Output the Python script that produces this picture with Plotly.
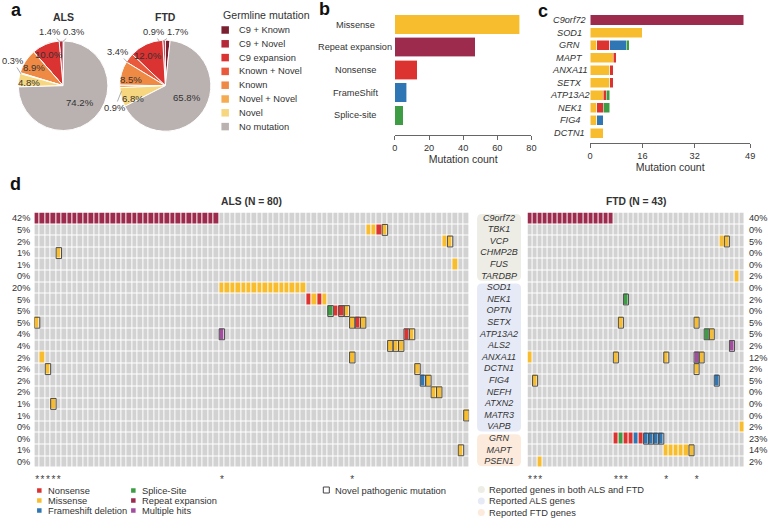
import math
import plotly.graph_objects as go

W, H = 773, 519
FONT = "Liberation Sans, Arial, Helvetica, sans-serif"
TXT = "#333333"

# ---------------- Panel a : germline mutation pies ----------------
germline_labels = ["C9 + Known", "C9 + Novel", "C9 expansion", "Known + Novel",
                   "Known", "Novel + Novel", "Novel", "No mutation"]
germline_colors = ["#7B2030", "#B5283A", "#DB3232", "#E95A3D",
                   "#EF8A45", "#F5AC50", "#F7D680", "#BAB2B0"]
als_germline_pct = [0.3, 1.4, 10.0, 0.0, 8.9, 0.3, 4.8, 74.2]
ftd_germline_pct = [1.7, 0.9, 12.0, 3.4, 8.5, 0.9, 6.8, 65.8]

# ---------------- Panel b : mutation types ----------------
mut_types = ["Missense", "Repeat expansion", "Nonsense", "FrameShift", "Splice-site"]
mut_counts = [73, 47, 13, 7, 5]

COL_MISSENSE = "#F8BD2F"
COL_REPEAT = "#9C2B4E"
COL_NONSENSE = "#DD3330"
COL_FRAMESHIFT = "#2F76B5"
COL_SPLICE = "#3E9D44"
COL_MULTI = "#A24E9F"
COL_NONE = "#D2D2D2"
mut_type_colors = [COL_MISSENSE, COL_REPEAT, COL_NONSENSE, COL_FRAMESHIFT, COL_SPLICE]

# ---------------- Panel c : per-gene counts ----------------
c_genes = ["C9orf72", "SOD1", "GRN", "MAPT", "ANXA11", "SETX", "ATP13A2", "NEK1", "FIG4", "DCTN1"]
c_missense = [0, 16, 2, 7, 6, 6, 4, 2, 2, 4]
c_nonsense = [0, 0, 4, 1, 1, 1, 1, 2, 0, 0]
c_frameshift = [0, 0, 5, 0, 0, 0, 0, 0, 2, 0]
c_splice = [0, 0, 1, 0, 0, 0, 1, 2, 0, 0]
c_repeat = [47, 0, 0, 0, 0, 0, 0, 0, 0, 0]

# ---------------- Panel d : oncoprint ----------------
d_genes = ["C9orf72", "TBK1", "VCP", "CHMP2B", "FUS", "TARDBP", "SOD1", "NEK1", "OPTN",
           "SETX", "ATP13A2", "ALS2", "ANXA11", "DCTN1", "FIG4", "NEFH", "ATXN2", "MATR3",
           "VAPB", "GRN", "MAPT", "PSEN1"]
# gene groups: (name, first row, last row)
gene_groups = [("both", 0, 5), ("als", 6, 18), ("ftd", 19, 21)]
group_colors = {"both": "#EDEDE6", "als": "#E6EAF6", "ftd": "#FCEBDD"}
als_pct_labels = ["42%", "5%", "2%", "1%", "1%", "0%", "20%", "5%", "5%", "5%", "4%", "4%",
                  "2%", "2%", "2%", "2%", "1%", "1%", "0%", "0%", "1%", "0%"]
ftd_pct_labels = ["40%", "0%", "5%", "0%", "0%", "2%", "0%", "2%", "0%", "5%", "5%", "2%",
                  "12%", "2%", "5%", "0%", "0%", "0%", "2%", "23%", "14%", "2%"]
N_ALS, N_FTD = 80, 43
# events: gene -> list of (first patient column, run length, code)
# codes: r repeat, m missense, n nonsense, f frameshift, s splice, h multiple hits
# upper case = novel pathogenic mutation
als_events = {
    "C9orf72": [(0, 34, "r")],
    "TBK1": [(61, 2, "m"), (63, 1, "n"), (64, 1, "M")],
    "VCP": [(75, 1, "m"), (76, 1, "M")],
    "CHMP2B": [(4, 1, "M")],
    "FUS": [(77, 1, "m")],
    "SOD1": [(34, 16, "m")],
    "NEK1": [(50, 1, "n"), (51, 1, "m"), (52, 1, "n"), (53, 1, "m")],
    "OPTN": [(54, 1, "S"), (55, 1, "n"), (56, 1, "N"), (57, 1, "M")],
    "SETX": [(0, 1, "M"), (58, 1, "M"), (59, 1, "N"), (60, 1, "M")],
    "ATP13A2": [(34, 1, "H"), (68, 1, "N"), (69, 1, "M")],
    "ALS2": [(65, 3, "M")],
    "ANXA11": [(1, 1, "m"), (58, 1, "M")],
    "DCTN1": [(2, 1, "M"), (70, 1, "M")],
    "FIG4": [(71, 1, "F"), (72, 1, "M")],
    "NEFH": [(73, 2, "M")],
    "ATXN2": [(3, 1, "M")],
    "MATR3": [(79, 1, "M")],
    "MAPT": [(78, 1, "M")],
}
ftd_events = {
    "C9orf72": [(0, 17, "r")],
    "VCP": [(38, 1, "m"), (39, 1, "M")],
    "TARDBP": [(41, 1, "m")],
    "NEK1": [(19, 1, "S")],
    "SETX": [(18, 1, "M"), (33, 1, "M")],
    "ATP13A2": [(35, 1, "S"), (36, 1, "M")],
    "ALS2": [(40, 1, "H")],
    "ANXA11": [(0, 1, "m"), (17, 1, "M"), (27, 1, "M"), (33, 1, "H"), (34, 1, "M")],
    "DCTN1": [(33, 1, "M")],
    "FIG4": [(1, 1, "M"), (37, 1, "F")],
    "VAPB": [(42, 1, "m")],
    "GRN": [(17, 1, "n"), (18, 1, "s"), (19, 1, "n"), (20, 1, "n"), (21, 1, "f"),
            (22, 1, "n"), (23, 4, "F")],
    "MAPT": [(27, 5, "m"), (32, 1, "M")],
    "PSEN1": [(2, 1, "m")],
}
code_index = {"n": 1, "m": 2, "f": 3, "s": 4, "r": 5, "h": 6}
cell_colors = [COL_NONE, COL_NONSENSE, COL_MISSENSE, COL_FRAMESHIFT, COL_SPLICE, COL_REPEAT, COL_MULTI]

# ---------------- helpers ----------------
def dom_x(x0, x1):
    return [x0 / W, x1 / W]

def dom_y(top, bottom):
    return [1 - bottom / H, 1 - top / H]

fig = go.Figure()
annotations = []
shapes = []

def ann(x, y, text, size=10, xanchor="center", yanchor="middle", xref="x6", yref="y6",
        bold=False, color=TXT, **kw):
    annotations.append(dict(x=x, y=y, xref=xref, yref=yref, text=(f"<b>{text}</b>" if bold else text),
                            showarrow=False, xanchor=xanchor, yanchor=yanchor,
                            font=dict(size=size, color=color, family=FONT), **kw))

# ---------------- pies ----------------
INSIDE_MIN = 4.0
# where the small-slice labels sit (pixels), connected to their slice by a leader line
outside_label_pos = {
    "ALS": {"C9 + Known": (71, 32), "C9 + Novel": (47, 32), "Novel + Novel": (10, 61)},
    "FTD": {"C9 + Known": (176, 32), "C9 + Novel": (152, 32), "Known + Novel": (116, 52),
            "Novel + Novel": (113, 108)},
}

def pie_trace(name, vals, cx, cy, r):
    fig.add_trace(go.Pie(values=vals, labels=germline_labels, sort=False, direction="counterclockwise",
                         rotation=0, marker=dict(colors=germline_colors, line=dict(color="white", width=1)),
                         textinfo="none",
                         domain=dict(x=dom_x(cx - r, cx + r), y=dom_y(cy - r, cy + r)),
                         hoverinfo="skip", showlegend=False))
    total = sum(vals)
    acc = 0.0
    for lab, v in zip(germline_labels, vals):
        mid = (acc + v / 2) / total * 2 * math.pi       # counterclockwise from 12 o'clock
        sx, sy = -math.sin(mid), -math.cos(mid)
        if v >= INSIDE_MIN:
            f = 0.53 if v > 50 else 0.76
            ann(cx + sx * r * f, cy + sy * r * f, f"{v:.1f}%", size=9.6)
        elif v > 0:
            lx, ly = outside_label_pos[name][lab]
            annotations.append(dict(x=cx + sx * r * 0.97, y=cy + sy * r * 0.97, xref="x6", yref="y6",
                                    ax=lx, ay=ly, axref="x6", ayref="y6", text=f"{v:.1f}%",
                                    showarrow=True, arrowhead=0, arrowwidth=0.7, arrowcolor="#8A8A8A",
                                    standoff=0, font=dict(size=9.3, color=TXT, family=FONT)))
        acc += v

pie_trace("ALS", als_germline_pct, 60.7, 85.7, 45.3)
pie_trace("FTD", ftd_germline_pct, 164.0, 85.7, 46.0)
ann(60.7, 17, "ALS", size=10.5, bold=True)
ann(164, 17, "FTD", size=10.5, bold=True)

# pie legend
ann(220.5, 15, "Germline mutation", size=10.6, xanchor="left")
leg_y0, leg_dy = 30, 13.8
fig.add_trace(go.Scatter(x=[224.5] * len(germline_labels),
                         y=[leg_y0 + i * leg_dy for i in range(len(germline_labels))],
                         mode="markers", marker=dict(symbol="square", size=7.5, color=germline_colors),
                         xaxis="x6", yaxis="y6", hoverinfo="skip", showlegend=False))
for i, lab in enumerate(germline_labels):
    ann(236.5, leg_y0 + i * leg_dy, lab, size=9.3, xanchor="left")

# ---------------- panel b ----------------
fig.add_trace(go.Bar(x=mut_counts, y=mut_types, orientation="h", width=0.86,
                     marker=dict(color=mut_type_colors, line=dict(color="white", width=0.6)),
                     xaxis="x", yaxis="y", hoverinfo="skip", showlegend=False))
for t in mut_types:
    ann(356, t, t, size=9.2, yref="y")

# ---------------- panel c ----------------
for vals, col in [(c_missense, COL_MISSENSE), (c_nonsense, COL_NONSENSE),
                  (c_frameshift, COL_FRAMESHIFT), (c_splice, COL_SPLICE), (c_repeat, COL_REPEAT)]:
    fig.add_trace(go.Bar(x=[v if v else None for v in vals], y=c_genes, orientation="h", width=0.8,
                         marker=dict(color=col, line=dict(color="white", width=0.5)),
                         xaxis="x2", yaxis="y2", hoverinfo="skip", showlegend=False))
for g in c_genes:
    ann(572.5, g, f"<i>{g}</i>", size=9.2, yref="y2")

# ---------------- panel d ----------------
def build(events, ncol, xa, ya):
    z = [[0] * ncol for _ in d_genes]
    genes_per_patient = [set() for _ in range(ncol)]
    for gene, evs in events.items():
        r = d_genes.index(gene)
        for start, length, code in evs:
            for c in range(start, start + length):
                z[r][c] = code_index[code.lower()]
                genes_per_patient[c].add(gene)
                if code.isupper():
                    shapes.append(dict(type="rect", xref=xa, yref=ya, x0=c - 0.5, x1=c + 0.5,
                                       y0=r - 0.47, y1=r + 0.47,
                                       line=dict(color="#4A4A4A", width=1), fillcolor="rgba(0,0,0,0)"))
    n = len(cell_colors)
    cs = []
    for k, col in enumerate(cell_colors):
        cs += [[k / n, col], [(k + 1) / n, col]]
    fig.add_trace(go.Heatmap(z=z, x=list(range(ncol)), y=list(range(len(d_genes))),
                             colorscale=cs, zmin=-0.5, zmax=n - 0.5, showscale=False,
                             xgap=1, ygap=1, hoverinfo="skip", xaxis=xa, yaxis=ya))
    stars = [c for c in range(ncol) if len(genes_per_patient[c]) > 1]
    return stars

als_stars = build(als_events, N_ALS, "x3", "y3")
ftd_stars = build(ftd_events, N_FTD, "x4", "y4")

GRID_TOP, GRID_BOT = 212.5, 467.7
ALS_X0, ALS_X1 = 31.7, 471.0
FTD_X0, FTD_X1 = 530.0, 749.3

ann((ALS_X0 + ALS_X1) / 2, 201, "ALS (N = 80)", size=10.3, bold=True)
ann((FTD_X0 + FTD_X1) / 2, 201, "FTD (N = 43)", size=10.3, bold=True)

# carrier percentages beside the grids
for i, lab in enumerate(als_pct_labels):
    ann(ALS_X0 - 2, i, lab, size=9.2, xanchor="right", yref="y3")
for i, lab in enumerate(ftd_pct_labels):
    ann(FTD_X1 + 2.5, i, lab, size=9.2, xanchor="left", yref="y4")

# gene label column
fig.add_trace(go.Scatter(x=[0.5] * len(d_genes), y=list(range(len(d_genes))), mode="text",
                         text=[f"<i>{g}</i>" for g in d_genes],
                         textfont=dict(size=9, color=TXT, family=FONT),
                         xaxis="x5", yaxis="y5", hoverinfo="skip", showlegend=False))
LAB_X0, LAB_X1 = 479.0, 523.5
rx = 5 / (LAB_X1 - LAB_X0)
ry = 5 / ((GRID_BOT - GRID_TOP) / len(d_genes))
for name, r0, r1 in gene_groups:
    x0, x1 = 0.0, 1.0
    y0, y1 = r0 - 0.38, r1 + 0.38
    path = (f"M{x0+rx},{y0} L{x1-rx},{y0} Q{x1},{y0} {x1},{y0+ry} L{x1},{y1-ry} "
            f"Q{x1},{y1} {x1-rx},{y1} L{x0+rx},{y1} Q{x0},{y1} {x0},{y1-ry} "
            f"L{x0},{y0+ry} Q{x0},{y0} {x0+rx},{y0} Z")
    shapes.append(dict(type="path", path=path, xref="x5", yref="y5", layer="below",
                       fillcolor=group_colors[name], line=dict(width=0)))

# bottom legends
type_legend = [("Nonsense", COL_NONSENSE), ("Missense", COL_MISSENSE), ("Frameshift deletion", COL_FRAMESHIFT),
               ("Splice-Site", COL_SPLICE), ("Repeat expansion", COL_REPEAT), ("Multiple hits", COL_MULTI)]
leg_cols_x = [36.7, 131.7]
leg_rows_y = [490.5, 500.5, 510.5]
lx, ly, lc = [], [], []
for i, (lab, col) in enumerate(type_legend):
    x = leg_cols_x[i // 3]
    y = leg_rows_y[i % 3]
    lx.append(x); ly.append(y); lc.append(col)
    ann(x + 7.0, y, lab, size=9.3, xanchor="left")
fig.add_trace(go.Scatter(x=lx, y=ly, mode="markers", marker=dict(symbol="square", size=4.5, color=lc),
                         xaxis="x6", yaxis="y6", hoverinfo="skip", showlegend=False))
fig.add_trace(go.Scatter(x=[326.7], y=[490], mode="markers",
                         marker=dict(symbol="square-open", size=6, color="#444", line=dict(width=1)),
                         xaxis="x6", yaxis="y6", hoverinfo="skip", showlegend=False))
ann(333.5, 490, "Novel pathogenic mutation", size=9.4, xanchor="left")
group_legend = [("Reported genes in both ALS and FTD", "both"), ("Reported ALS genes", "als"),
                ("Reported FTD genes", "ftd")]
gy = [489.5, 501, 512.5]
fig.add_trace(go.Scatter(x=[483.3] * 3, y=gy, mode="markers",
                         marker=dict(symbol="circle", size=7, color=[group_colors[g] for _, g in group_legend]),
                         xaxis="x6", yaxis="y6", hoverinfo="skip", showlegend=False))
for (lab, _), y in zip(group_legend, gy):
    ann(489.5, y, lab, size=9.3, xanchor="left")

# panel letters
for letter, x, y in [("a", 14, 10), ("b", 325, 9), ("c", 546, 11), ("d", 13, 184)]:
    ann(x, y, letter, size=18, bold=True, color="#111")

# ---------------- layout ----------------
axis_common = dict(showgrid=False, zeroline=False)
tick_font = dict(size=9.2, color=TXT, family=FONT)
star_font = dict(size=10, color="#444", family=FONT)
fig.update_layout(
    width=W, height=H, margin=dict(l=0, r=0, t=0, b=0),
    paper_bgcolor="white", plot_bgcolor="rgba(0,0,0,0)",
    font=dict(family=FONT, color=TXT), barmode="stack", showlegend=False,
    xaxis=dict(domain=dom_x(396, 534), anchor="y", range=[0, 80], tickvals=[0, 20, 40, 60, 80],
               ticks="outside", ticklen=4, tickcolor="#666", showline=True, linecolor="#666",
               tickfont=tick_font, title=dict(text="Mutation count", font=dict(size=10.5), standoff=3),
               **axis_common),
    yaxis=dict(domain=dom_y(13.2, 135), anchor="x", type="category", range=[4.87, -0.5],
               showticklabels=False, ticks="", showline=False, **axis_common),
    xaxis2=dict(domain=dom_x(593.3, 755), anchor="y2", range=[0, 49], tickvals=[0, 16, 32, 49],
                ticks="outside", ticklen=4, tickcolor="#666", showline=True, linecolor="#666",
                tickfont=tick_font, title=dict(text="Mutation count", font=dict(size=10.5), standoff=3),
                **axis_common),
    yaxis2=dict(domain=dom_y(13.7, 142.7), anchor="x2", type="category", range=[9.77, -0.5],
                showticklabels=False, ticks="", showline=False, **axis_common),
    xaxis3=dict(domain=dom_x(ALS_X0, ALS_X1), anchor="y3", range=[-0.5, N_ALS - 0.5],
                tickvals=als_stars, ticktext=["*"] * len(als_stars), ticks="", tickangle=0,
                ticklabelstandoff=4, tickfont=star_font, showline=False, **axis_common),
    yaxis3=dict(domain=dom_y(GRID_TOP, GRID_BOT), anchor="x3", range=[len(d_genes) - 0.5, -0.5],
                showticklabels=False, ticks="", showline=False, **axis_common),
    xaxis4=dict(domain=dom_x(FTD_X0, FTD_X1), anchor="y4", range=[-0.5, N_FTD - 0.5],
                tickvals=ftd_stars, ticktext=["*"] * len(ftd_stars), ticks="", tickangle=0,
                ticklabelstandoff=4, tickfont=star_font, showline=False, **axis_common),
    yaxis4=dict(domain=dom_y(GRID_TOP, GRID_BOT), anchor="x4", side="right",
                range=[len(d_genes) - 0.5, -0.5], showticklabels=False, ticks="", showline=False,
                **axis_common),
    xaxis5=dict(domain=dom_x(LAB_X0, LAB_X1), anchor="y5", range=[0, 1], visible=False),
    yaxis5=dict(domain=dom_y(GRID_TOP, GRID_BOT), anchor="x5", range=[len(d_genes) - 0.5, -0.5],
                visible=False),
    xaxis6=dict(domain=[0, 1], anchor="y6", range=[0, W], visible=False),
    yaxis6=dict(domain=[0, 1], anchor="x6", range=[H, 0], visible=False),
    annotations=annotations, shapes=shapes,
)

fig.write_html("out.html", config={"displayModeBar": False, "staticPlot": True},
               post_script="document.body.style.margin='0px';document.body.style.overflow='hidden';")
